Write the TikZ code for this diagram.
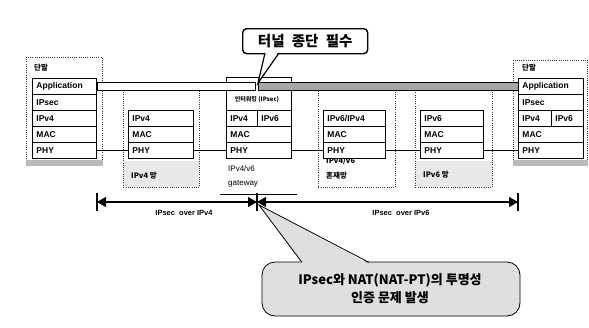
\documentclass[tikz,border=0pt]{standalone}
\usepackage{fontspec}
\setmainfont{Liberation Sans}
\newfontfamily\kr{Noto Sans CJK KR}
\usetikzlibrary{arrows.meta}
\newcommand\lay[5]{\node[layer, text width=\the\dimexpr#4pt-8pt\relax] (#1) at (#2,#3) {#5};}
\newcommand\dbox[5]{\node[dotbox, minimum width=#4pt, minimum height=#5pt] (#1) at (#2,#3) {};}
\begin{document}
\begin{tikzpicture}[x=1pt,y=-1pt,
  layer/.style={draw, line width=0.9pt, fill=white, anchor=north west, minimum height=16pt,
    inner xsep=4pt, inner ysep=0pt, align=left, font=\bfseries\fontsize{8.5}{9}\selectfont},
  dotbox/.style={draw=black!80, line width=0.8pt, dash pattern=on 1pt off 1.2pt,
    anchor=north west, inner sep=0pt, fill=white},
  lbl/.style={anchor=west, inner sep=0pt, font=\kr\bfseries\fontsize{7.5}{9}\selectfont},
  link/.style={line width=1.8pt},
  dimtxt/.style={font=\bfseries\fontsize{7.5}{9}\selectfont, inner sep=0pt},
  tri/.style={-{Triangle[length=9pt,width=10pt]}, line width=1.1pt},
]
\useasboundingbox (0,0) rectangle (589,327);

% ---- outer boxes ----
\dbox{t1}{26}{57}{76}{108}
\fill[gray!55] (t1.south west) rectangle ([yshift=6pt]t1.south east);
\dbox{n4}{123}{90}{76}{97}
\fill[gray!18] ([yshift=1pt,xshift=1pt]n4.south west) rectangle ([yshift=27pt,xshift=-1pt]n4.south east);
\dbox{nm}{318}{86}{77}{101}
\dbox{n6}{415}{90}{77}{97}
\fill[gray!18] ([yshift=1pt,xshift=1pt]n6.south west) rectangle ([yshift=27pt,xshift=-1pt]n6.south east);
\dbox{t2}{513}{60}{74}{105}
\fill[gray!55] (t2.south west) rectangle ([yshift=6pt]t2.south east);

\node[draw, line width=0.9pt, fill=white, anchor=north west, minimum width=65pt, minimum height=81pt, inner sep=0pt] (gw) at (226,77) {};

% ---- labels ----
\node[lbl] (t1lbl) at (34,68) {단말};
\node[lbl] (t2lbl) at (522,68) {단말};
\node[lbl] (n4lbl) at (131,176) {IPv4 망};
\node[lbl] (n6lbl) at (423,175) {IPv6 망};
\node[lbl] (nmlbl1) at (326,161) {IPv4/v6};
\node[lbl] (nmlbl2) at (326,176) {혼재망};
\node[anchor=north west, align=left, inner sep=0pt, font=\fontsize{8}{14}\selectfont] (gwlbl) at (228,165) {IPv4/v6\\gateway};
\node[inner sep=0pt, font=\kr\bfseries\fontsize{6}{7}\selectfont] (gwtop) at (257,100) {인터워킹 (IPsec)};

% ---- stacks ----
\lay{t1app}{32}{78}{64}{Application}
\lay{t1sec}{32}{94}{64}{IPsec}
\lay{t1ip}{32}{110}{64}{IPv4}
\lay{t1mac}{32}{126}{64}{MAC}
\lay{t1phy}{32}{142}{64}{PHY}

\lay{n4ip}{128}{110}{65}{IPv4}
\lay{n4mac}{128}{126}{65}{MAC}
\lay{n4phy}{128}{142}{65}{PHY}

\lay{gwip4}{226}{110}{31}{IPv4}
\lay{gwip6}{257}{110}{34}{IPv6}
\lay{gwmac}{226}{126}{65}{MAC}
\lay{gwphy}{226}{142}{65}{PHY}

\lay{nmip}{323}{110}{62}{IPv6/IPv4}
\lay{nmmac}{323}{126}{62}{MAC}
\lay{nmphy}{323}{142}{62}{PHY}

\lay{n6ip}{420}{110}{63}{IPv6}
\lay{n6mac}{420}{126}{63}{MAC}
\lay{n6phy}{420}{142}{63}{PHY}

\lay{t2app}{518}{78}{65}{Application}
\lay{t2sec}{518}{94}{65}{IPsec}
\lay{t2ip4}{518}{110}{33}{IPv4}
\lay{t2ip6}{551}{110}{32}{IPv6}
\lay{t2mac}{518}{126}{65}{MAC}
\lay{t2phy}{518}{142}{65}{PHY}

% ---- physical links ----
\draw[link] (t1phy) -- (n4phy);
\draw[link] (n4phy) -- (gwphy);
\draw[link] (gwphy) -- (nmphy);
\draw[link] (nmphy) -- (n6phy);
\draw[link] (n6phy) -- (t2phy);

% ---- tunnel bar ----
\draw[line width=0.8pt, fill=white] (t1app.east |- 0,82) rectangle (255,90);
\draw[line width=0.8pt, fill=gray!70] (258,82) rectangle (t2app.west |- 0,90);

% ---- top callout ----
\node[draw, line width=1.4pt, rounded corners=4pt, fill=white, anchor=north west,
  minimum width=125pt, minimum height=25pt, inner sep=0pt,
  font=\kr\bfseries\fontsize{14.5}{16}\selectfont] (call1) at (242,28) {터널\enspace 종단\enspace 필수};
\coordinate (tip1) at (258,83);
\fill[white] (265,51) -- (tip1) -- (279,51) -- cycle;
\draw[line width=1.2pt] (265,53) -- (tip1) -- (279,53);

% ---- dimension line ----
\coordinate (d1) at (97,202);
\coordinate (d2) at (257,202);
\coordinate (d3) at (518,202);
\draw[line width=1.4pt] ([yshift=9pt]d1) -- ([yshift=-9pt]d1);
\draw[line width=1.4pt] ([yshift=9pt]d2) -- ([yshift=-9pt]d2);
\draw[line width=1.4pt] ([yshift=9pt]d3) -- ([yshift=-9pt]d3);
\draw[tri] (d2) -- (d1);
\draw[tri] (d1) -- (d2);
\draw[tri] (d3) -- (d2);
\draw[tri] (d2) -- (d3);
\coordinate (g1) at (220,194);
\coordinate (g2) at (297,194);
\draw[line width=1pt] (g1) -- (g2);
\node[dimtxt] (dim4) at (184,213) {IPsec\ \ over IPv4};
\node[dimtxt] (dim6) at (401,213) {IPsec\ \ over IPv6};

% ---- bottom callout ----
\coordinate (tip2) at (259,205);
\draw[line width=0.8pt, fill=gray!25, rounded corners=13pt] (262,262) rectangle (520,316);
\fill[gray!25] (tip2) -- (302,264) -- (369,264) -- cycle;
\draw[line width=0.8pt] (302,262.4) -- (tip2) -- (369,262.4);
\node[align=center, inner sep=0pt, font=\kr\bfseries\fontsize{13}{18}\selectfont] (call2) at (390,289)
  {IPsec와 NAT(NAT-PT)의 투명성\\인증 문제 발생};
\end{tikzpicture}
\end{document}
